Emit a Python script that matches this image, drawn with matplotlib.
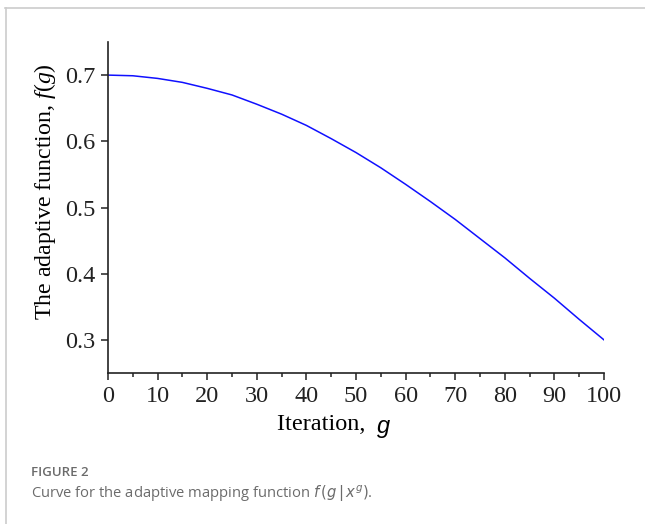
import matplotlib.pyplot as plt
from matplotlib.ticker import MultipleLocator
from matplotlib.lines import Line2D

# values, every 5 iterations
iteration = [0, 5, 10, 15, 20, 25, 30, 35, 40, 45, 50,
             55, 60, 65, 70, 75, 80, 85, 90, 95, 100]
f_value = [0.700, 0.699, 0.695, 0.689, 0.680, 0.670, 0.656, 0.641, 0.624, 0.604, 0.583,
           0.560, 0.535, 0.509, 0.482, 0.453, 0.424, 0.393, 0.363, 0.331, 0.300]
x_ticks = [0, 10, 20, 30, 40, 50, 60, 70, 80, 90, 100]
y_ticks = [0.3, 0.4, 0.5, 0.6, 0.7]

plt.rcParams["mathtext.fontset"] = "custom"
plt.rcParams["mathtext.rm"] = "Liberation Serif"
plt.rcParams["mathtext.it"] = "Liberation Serif:italic"

W, H = 645, 524
fig = plt.figure(figsize=(W / 100, H / 100), dpi=100)
ax = fig.add_axes([108 / W, 1 - 373 / H, (604 - 108) / W, (373 - 42) / H])

ax.plot(iteration, f_value, color="#1010ff", lw=1.1)

ax.set_xlim(0, 100)
ax.set_ylim(0.25, 0.75)
ax.set_xticks(x_ticks)
ax.set_yticks(y_ticks)
ax.xaxis.set_minor_locator(MultipleLocator(5))
ax.spines["top"].set_visible(False)
ax.spines["right"].set_visible(False)
for s in ["left", "bottom"]:
    ax.spines[s].set_linewidth(1.2)
    ax.spines[s].set_color("#222222")
ax.tick_params(axis="both", which="major", direction="out", length=5, width=1.1,
               labelsize=17.5, colors="#222222", pad=4)
ax.tick_params(axis="x", which="minor", direction="out", length=3, width=1.1, colors="#222222")
for lab in ax.get_xticklabels() + ax.get_yticklabels():
    lab.set_family("Liberation Serif")

ax.set_ylabel(r"The adaptive function, $f(g)$", family="Liberation Serif",
              fontsize=17.2)
ax.yaxis.set_label_coords(-50 / 496, (373 - 192) / 331)
fig.text(277 / W, 1 - 425 / H, "Iteration, ", family="Liberation Serif", fontsize=17.5,
         va="center", ha="left")
fig.text(377 / W, 1 - 427 / H, "g", family="Liberation Sans", style="italic",
         fontsize=17, va="center", ha="left")

# page frame lines
fig.add_artist(Line2D([5 / W, 1], [1 - 7.5 / H, 1 - 7.5 / H], color="#cccccc", lw=1.2))
fig.add_artist(Line2D([5.5 / W, 5.5 / W], [0, 1 - 7.5 / H], color="#cccccc", lw=1.2))

# caption
fig.text(31 / W, 1 - 473 / H, "FIGURE 2", family="Open Sans", fontsize=9.5,
         weight="semibold", color="#6b6b6b", va="center", ha="left")
fig.text(31 / W, 1 - 494 / H, r"Curve for the adaptive mapping function $f\,(g\,|\,x^g)$.",
         family="Open Sans", fontsize=10.6, color="#6b6b6b", va="center", ha="left",
         math_fontfamily="dejavusans")

fig.savefig("out.png", dpi=100)
